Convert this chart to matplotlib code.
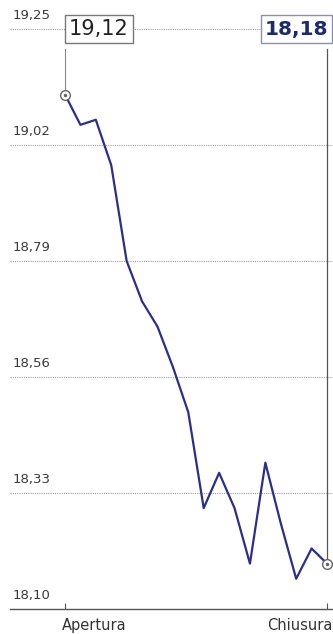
import numpy as np
import matplotlib
matplotlib.use('Agg')
import matplotlib.pyplot as plt

# prezzi intraday
prezzi = [19.12, 19.06, 19.07, 18.98, 18.79, 18.71, 18.66, 18.58, 18.49,
          18.30, 18.37, 18.30, 18.19, 18.39, 18.27, 18.16, 18.22, 18.19]
y_ticks = [18.10, 18.33, 18.56, 18.79, 19.02, 19.25]
y_labels = ['18,10', '18,33', '18,56', '18,79', '19,02', '19,25']
x_labels = ['Apertura', 'Chiusura']
apertura_txt = '19,12'
chiusura_txt = '18,18'

W, H = 333, 634
fig = plt.figure(figsize=(W / 100, H / 100), dpi=100)
ax = fig.add_axes([10 / W, (H - 609) / H, 1 - 10 / W, (609 - 29) / H])

n = len(prezzi)
x = np.arange(n)
step = (327 - 65) / (n - 1)
ax.set_xlim((10 - 65) / step, (333 - 65) / step)
ax.set_ylim(18.10, 19.25)

# griglia tratteggiata
for v in y_ticks[1:]:
    ax.axhline(v, color='#a0a0a0', lw=0.8, ls=(0, (1, 1)), zorder=1)

# linee verticali apertura / chiusura
ax.plot([0, 0], [prezzi[0], 19.21], color='#8a8a8a', lw=0.8, zorder=2)
ax.plot([n - 1, n - 1], [prezzi[-1], 19.21], color='#555555', lw=0.9, zorder=2)

ax.plot(x, prezzi, color='#2b2f8c', lw=1.6, zorder=3)

for i in (0, n - 1):
    ax.plot(x[i], prezzi[i], 'o', ms=7, mfc='white', mec='#666666', mew=1.0, zorder=4)
    ax.plot(x[i], prezzi[i], 'o', ms=1.5, color='#666666', zorder=5)

# etichette asse y sopra le linee
for v, lab in zip(y_ticks, y_labels):
    ax.annotate(lab, (ax.get_xlim()[0], v), xytext=(2, 5), textcoords='offset points',
                ha='left', va='bottom', fontsize=9.5, color='#3a3a3a')

# riquadri con prezzi
ax.annotate(apertura_txt, (0, 19.25), xytext=(3, 0), textcoords='offset points',
            ha='left', va='center', fontsize=15, color='#222222',
            bbox=dict(boxstyle='square,pad=0.2', fc='white', ec='#777777', lw=1.0), zorder=6)
ax.annotate(chiusura_txt, (n - 1, 19.25), xytext=(1, 0), textcoords='offset points',
            ha='right', va='center', fontsize=14.5, fontweight='bold', color='#1d2a6b',
            bbox=dict(boxstyle='square,pad=0.2', fc='white', ec='#8a8fb5', lw=1.0), zorder=6)

# asse x
for s in ['top', 'right', 'left']:
    ax.spines[s].set_visible(False)
ax.spines['bottom'].set_color('#555555')
ax.spines['bottom'].set_linewidth(1.0)
ax.set_yticks([])
ax.set_xticks([0, n - 1])
ax.set_xticklabels([])
ax.tick_params(axis='x', direction='in', length=4, color='#555555')
fig.text(62 / W, 1 / H, x_labels[0], ha='left', va='bottom', fontsize=10.5, color='#333333')
fig.text(332 / W, 1 / H, x_labels[1], ha='right', va='bottom', fontsize=10.5, color='#333333')

plt.savefig('out.png', dpi=100)
plt.close()
